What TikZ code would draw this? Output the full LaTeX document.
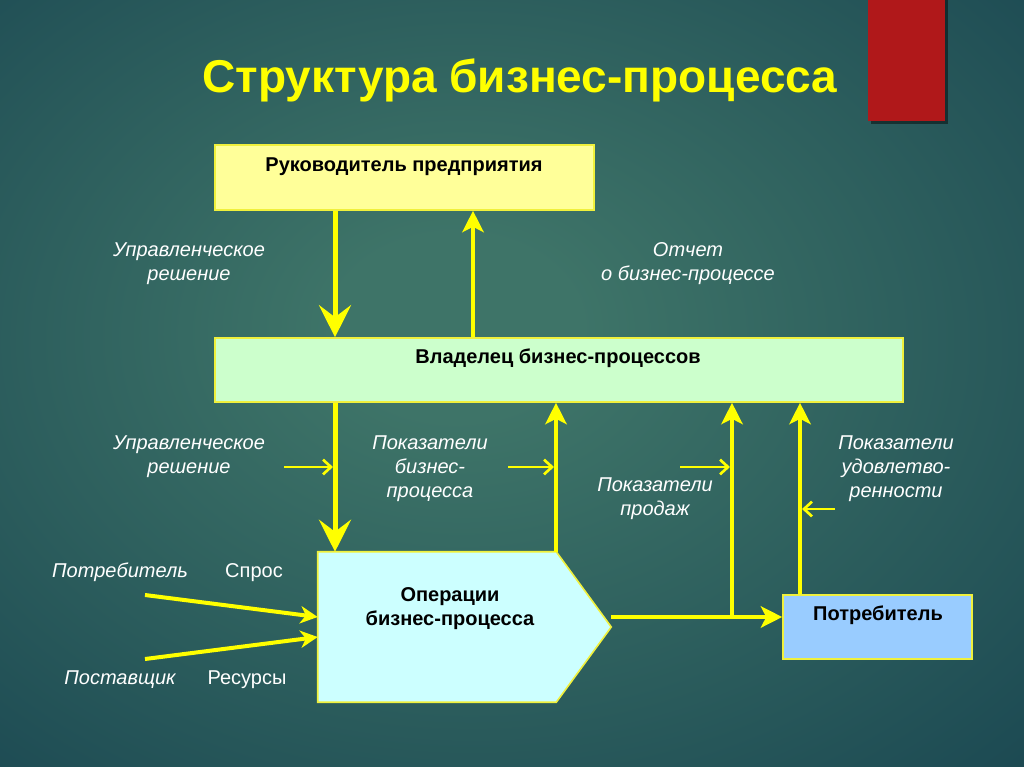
\documentclass[tikz,border=0pt]{standalone}
\usepackage{fontspec}
\setmainfont{Liberation Sans}
\usetikzlibrary{arrows.meta,calc}
\definecolor{bgin}{RGB}{62,116,104}
\definecolor{bgmid}{RGB}{30,76,84}
\definecolor{bgout}{RGB}{14,40,54}
\definecolor{yel}{RGB}{255,255,0}
\definecolor{boxedge}{RGB}{240,240,60}
\definecolor{rukc}{RGB}{255,255,153}
\definecolor{vladc}{RGB}{204,255,204}
\definecolor{opsc}{RGB}{204,255,255}
\definecolor{potrc}{RGB}{153,204,255}
\definecolor{redtab}{RGB}{176,24,26}
\pgfdeclareradialshading{bg}{\pgfpoint{-3bp}{4bp}}{color(0bp)=(bgin); color(6bp)=(bgin); color(36bp)=(bgmid); color(62bp)=(bgout); color(75bp)=(bgout)}
\tikzset{
  box/.style={draw=boxedge, line width=1.2pt},
  btext/.style={font=\bfseries\fontsize{15}{17.5}\selectfont, text=black, align=center, inner sep=0pt},
  ltext/.style={font=\itshape\fontsize{15}{18}\selectfont, text=white, align=center, inner sep=0pt},
  rtext/.style={font=\fontsize{15}{18}\selectfont, text=white, inner sep=0pt},
  titletext/.style={font=\bfseries\fontsize{34.5}{40}\selectfont, text=yel, inner sep=0pt},
  bigarrow/.style={draw=yel, line width=3.75pt, -{Stealth[length=24pt,width=24pt,inset=9pt]}},
  uparrow/.style={draw=yel, line width=3pt, -{Stealth[length=16pt,width=16pt,inset=4pt]}},
  smallarrow/.style={draw=yel, line width=2pt, -{Straight Barb[length=6pt,width=11pt]}},
  inarrow/.style={draw=yel, line width=3pt, -{Stealth[length=13pt,width=13pt,inset=4pt]}},
}
\begin{document}
\begin{tikzpicture}[x=0.75pt,y=-0.75pt]
\useasboundingbox (0,0) rectangle (1024,767);
\shade[shading=bg] (0,0) rectangle (1024,767);
% red tab
\fill[black,opacity=0.45] (871,0) rectangle (948,124);
\fill[redtab] (868,0) rectangle (945,121);
\node[titletext, anchor=base] (title) at (520,93) {Структура бизнес-процесса};

% boxes
\node[box, fill=rukc, minimum width=284.25pt, minimum height=48.75pt] (ruk) at (404.5,177.5) {};
\node[btext, anchor=base] (ruktext) at (404,171) {Руководитель предприятия};
\node[box, fill=vladc, minimum width=516pt, minimum height=48pt] (vlad) at (559,370) {};
\node[btext, anchor=base] (vladtext) at (558,363) {Владелец бизнес-процессов};
\node[box, fill=potrc, minimum width=141.75pt, minimum height=48pt] (potr) at (877.5,627) {};
\node[btext, anchor=base] (potrtext) at (878,620) {Потребитель};
\node[minimum width=178.5pt, minimum height=112.5pt, inner sep=0pt] (ops) at (437,627) {};
\coordinate (opstip) at ($(ops.east)+(55,0)$);
\filldraw[box, fill=opsc] (ops.north west) -- (ops.north east) -- (opstip) -- (ops.south east) -- (ops.south west) -- cycle;
\node[btext, anchor=base] (opstext) at (450,625) {Операции\\бизнес-процесса};

% columns
\coordinate (xa) at (335,0);
\coordinate (xb) at (473,0);
\coordinate (xc) at (556,0);
\coordinate (xd) at (732,0);
\coordinate (xe) at (800,0);

% main arrows
\draw[bigarrow] (ruk.south -| xa) -- (vlad.north -| xa);
\draw[uparrow] (vlad.north -| xb) -- (ruk.south -| xb);
\draw[bigarrow] (vlad.south -| xa) -- (ops.north -| xa);
\draw[uparrow] (ops.north -| xc) -- (vlad.south -| xc);
\coordinate (outstart) at (611,617);
\coordinate (junc) at (732,617);
\draw[uparrow] (junc) -- (vlad.south -| junc);
\draw[uparrow] (outstart) -- (outstart -| potr.west);
\draw[uparrow] (potr.north -| xe) -- (vlad.south -| xe);

% small arrows
\coordinate (s1) at (284,467);
\coordinate (s2) at (508,467);
\coordinate (s3) at (680,467);
\coordinate (s4) at (835,509);
\draw[smallarrow] (s1) -- ($(s1 -| xa)+(-2,0)$);
\draw[smallarrow] (s2) -- ($(s2 -| xc)+(-2,0)$);
\draw[smallarrow] (s3) -- ($(s3 -| xd)+(-2,0)$);
\draw[smallarrow] (s4) -- ($(s4 -| xe)+(2,0)$);

% inputs
\coordinate (in1) at (145,595);
\coordinate (in2) at (145,659);
\draw[inarrow] (in1) -- ($(ops.west)+(0,-10)$);
\draw[inarrow] (in2) -- ($(ops.west)+(0,10)$);

% labels (base = baseline of last line)
\node[ltext, anchor=base] (l1) at (189,280) {Управленческое\\решение};
\node[ltext, anchor=base] (l2) at (688,280) {Отчет\\о бизнес-процессе};
\node[ltext, anchor=base] (l3) at (189,473) {Управленческое\\решение};
\node[ltext, anchor=base] (l4) at (430,497) {Показатели\\бизнес-\\процесса};
\node[ltext, anchor=base] (l5) at (655,515) {Показатели\\продаж};
\node[ltext, anchor=base] (l6) at (896,497) {Показатели\\удовлетво-\\ренности};
\node[ltext, anchor=base] (c1) at (120,577) {Потребитель};
\node[rtext, anchor=base] (c2) at (254,577) {Спрос};
\node[ltext, anchor=base] (c3) at (120,684) {Поставщик};
\node[rtext, anchor=base] (c4) at (247,684) {Ресурсы};
\end{tikzpicture}
\end{document}
